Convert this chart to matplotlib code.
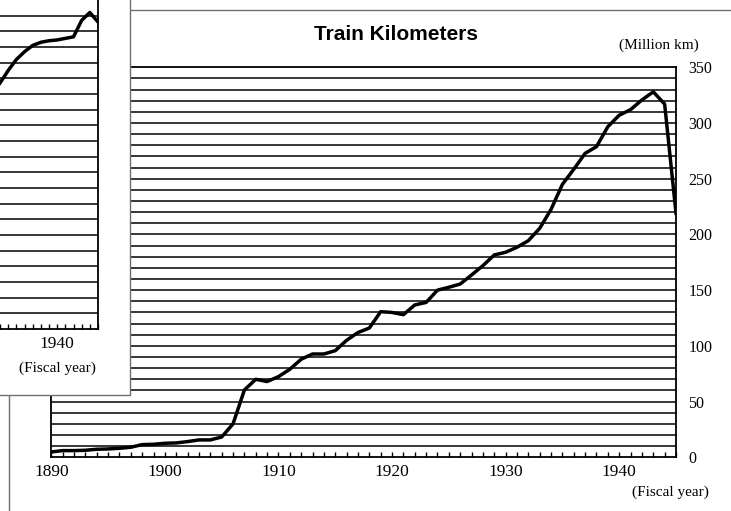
import matplotlib
matplotlib.use('Agg')
import matplotlib.pyplot as plt
from matplotlib.patches import Rectangle

# Main chart data (million train-km by fiscal year)
years = list(range(1890, 1946))
train_km = [4.8, 6.0, 6.0, 6.3, 7.2, 7.5, 8.1, 9.0, 11.4, 11.7,
            12.6, 12.9, 14.1, 15.6, 15.6, 18.2, 30.0, 60.4, 70.0, 68.0,
            72.4, 79.0, 88.0, 92.7, 92.7, 95.7, 105.0, 112.0, 116.0, 130.7,
            130.0, 128.0, 136.7, 139.0, 150.0, 152.6, 155.5, 163.6, 172.0, 181.6,
            184.0, 188.5, 194.4, 205.5, 222.5, 245.0, 258.5, 272.8, 278.8, 296.7,
            307.0, 312.0, 320.7, 328.0, 317.0, 219.0]

# Partly hidden chart behind (only its right end shows)
back_years = list(range(1933, 1946))
back_vals = [157, 165, 172, 177, 181, 183, 184, 184.5, 185.5, 186.5, 197, 202, 196]

W, H = 731, 511
serif = 'Liberation Serif'
fig = plt.figure(figsize=(W / 100, H / 100), dpi=100)

def fx(px):
    return px / W

def fy(py):
    return 1 - py / H

# outer frame of the main panel
fig.patches.append(Rectangle((fx(9), -0.05), 1.2, fy(10) + 0.05, transform=fig.transFigure,
                             facecolor='none', edgecolor='#707070', lw=1.0, zorder=-1))

ax = fig.add_axes([fx(51.3), fy(457.3), fx(676) - fx(51.3), fy(67.3) - fy(457.3)])
ax.set_facecolor('none')
for v in range(10, 350, 10):
    ax.axhline(v, color='black', lw=1.1, zorder=1)
ax.plot(years, train_km, color='black', lw=2.5, zorder=3)
ax.set_xlim(1890, 1945)
ax.set_ylim(0, 350)
for s in ax.spines.values():
    s.set_color('black')
    s.set_linewidth(1.3)
ax.yaxis.tick_right()
ax.set_yticks(range(0, 351, 50))
ax.set_yticklabels([str(v) for v in range(0, 351, 50)], fontfamily=serif, fontsize=11.5)
ax.tick_params(axis='y', length=0, pad=9)
ax.set_xticks(years)
ax.set_xticklabels([str(y) if y % 10 == 0 else '' for y in years], fontfamily=serif, fontsize=12.5)
ax.tick_params(axis='x', direction='in', length=3.5, width=1.0, pad=5)

fig.text(fx(396), fy(34), 'Train Kilometers', ha='center', va='center',
         fontfamily='Liberation Sans', fontweight='bold', fontsize=15)
fig.text(fx(659), fy(45), '(Million km)', ha='center', va='center', fontfamily=serif, fontsize=11)
fig.text(fx(670), fy(492), '(Fiscal year)', ha='center', va='center', fontfamily=serif, fontsize=11)

# white box of the chart lying on top
fig.patches.append(Rectangle((-0.05, fy(395)), fx(130) + 0.05, 1.2, transform=fig.transFigure,
                             facecolor='white', edgecolor='#707070', lw=1.0, zorder=1))

ax2 = fig.add_axes([0, fy(329), fx(98), 1 - fy(329)], zorder=2)
ax2.set_facecolor('none')
for v in range(10, 210, 10):
    ax2.axhline(v, color='black', lw=1.1, zorder=1)
ax2.plot(back_years, back_vals, color='black', lw=2.5, zorder=3)
ax2.set_xlim(1933, 1945)
ax2.set_ylim(0, 210)
ax2.spines['left'].set_visible(False)
ax2.spines['top'].set_visible(False)
ax2.spines['right'].set_linewidth(1.3)
ax2.spines['bottom'].set_linewidth(1.3)
ax2.set_yticks([])
ax2.set_xticks(back_years)
ax2.set_xticklabels([str(y) if y % 10 == 0 else '' for y in back_years], fontfamily=serif, fontsize=12.5)
ax2.tick_params(axis='x', direction='in', length=3.5, width=1.0, pad=5)
fig.text(fx(57), fy(368), '(Fiscal year)', ha='center', va='center', fontfamily=serif, fontsize=11,
         zorder=3)

fig.savefig('out.png', dpi=100)
